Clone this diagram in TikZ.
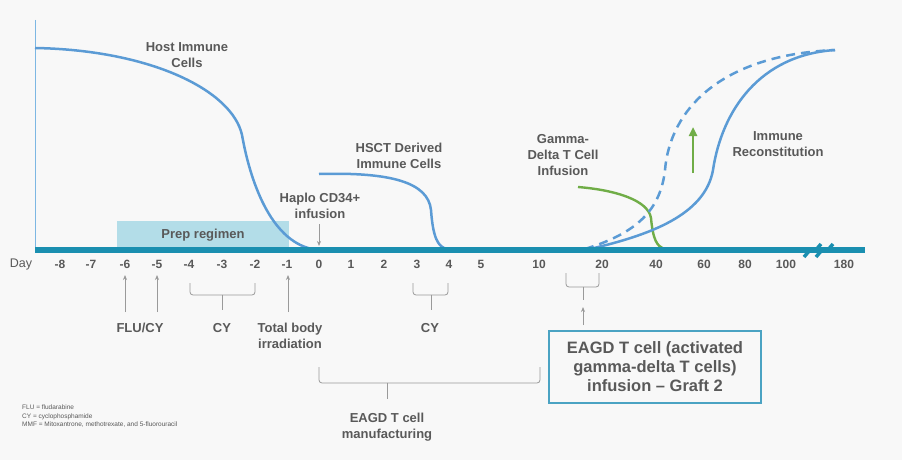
\documentclass[tikz,border=0pt]{standalone}
\usepackage{fontspec}
\setmainfont{Liberation Sans}
\usetikzlibrary{arrows.meta}
\definecolor{curvec}{HTML}{5B9BD5}
\definecolor{axisc}{HTML}{1A8FB0}
\definecolor{txt}{HTML}{595959}
\definecolor{prepc}{HTML}{B3DDE8}
\definecolor{grn}{HTML}{70AD47}
\definecolor{brk}{HTML}{9A9A9A}
\definecolor{boxc}{HTML}{4BA3C3}
\definecolor{bgc}{HTML}{F8F8F8}
\definecolor{vaxc}{HTML}{7DB7E3}
\begin{document}
\begin{tikzpicture}[x=1pt,y=-1pt,
  lbl/.style={font=\fontsize{13}{16}\selectfont\bfseries, text=txt, align=center, inner sep=0pt},
  tick/.style={font=\fontsize{12}{14}\selectfont\bfseries, text=txt, inner sep=0pt},
  cv/.style={curvec, line width=2.5pt},
  gcv/.style={grn, line width=2.4pt},
  bracefig/.style={brk, line width=0.8pt, rounded corners=3pt},
  garrow/.style={brk, line width=0.8pt, -{Stealth[length=5pt,width=4pt]}}
]
\fill[bgc] (0,0) rectangle (902,460);
\useasboundingbox (0,0) rectangle (902,460);

% prep regimen box
\node (prep) [fill=prepc, minimum width=172pt, minimum height=28pt, inner sep=0pt,
  font=\fontsize{13}{16}\selectfont\bfseries, text=txt] at (203,235) {Prep regimen};

% vertical axis
\draw[vaxc, line width=1pt] (35,20) -- (35,250);

% curves
\draw[cv] (35,48) .. controls (150,50) and (232,90) .. (242,135)
              .. controls (250,180) and (270,240) .. (312,249);
\draw[cv] (319,174) .. controls (390,172) and (428,182) .. (431,210)
              .. controls (433,238) and (438,247) .. (447,249);
\draw[gcv] (578,187) .. controls (615,190) and (648,200) .. (651,218)
              .. controls (653,240) and (657,246) .. (664,249);
\draw[cv, dash pattern=on 9pt off 6pt] (585,249) .. controls (630,235) and (660,215) .. (665,170)
              .. controls (670,110) and (720,55) .. (835,50);
\draw[cv] (590,249) .. controls (650,235) and (705,215) .. (713,170)
              .. controls (722,110) and (760,55) .. (835,50);
\coordinate (gaS) at (693,173);
\coordinate (gaE) at (693,127);
\draw[grn, line width=2.6pt, -{Triangle[length=9pt,width=8pt]}] (gaS) -- (gaE);

% horizontal axis
\draw[axisc, line width=6pt] (35,250) -- (865,250);
\draw[axisc, line width=3.5pt, line join=miter] (804,257) -- (810,250) -- (815,251) -- (821,244);
\draw[axisc, line width=3.5pt, line join=miter] (816,257) -- (822,250) -- (827,251) -- (833,244);

% curve labels
\node[lbl] (host) at (187,55) {Host Immune\\Cells};
\node[lbl] (hsct) at (399,156) {HSCT Derived\\Immune Cells};
\node[lbl] (haplo) at (320,206) {Haplo CD34+\\infusion};
\node[lbl] (gamma) at (563,155) {Gamma-\\Delta T Cell\\Infusion};
\node[lbl] (immune) at (778,144) {Immune\\Reconstitution};

\coordinate (hapS) at (319,224);
\coordinate (hapE) at (319,246);
\draw[garrow] (hapS) -- (hapE);

% ticks
\node[font=\fontsize{12.5}{14}\selectfont, text=txt, inner sep=0pt] (day) at (21,264) {Day};
\foreach \v/\x in {-8/60,-7/91,-6/125,-5/157,-4/189,-3/222,-2/255,-1/287,0/319,1/351,2/384,3/417,4/449,5/481,10/539,20/602,40/656,60/704,80/745,100/786,180/844}
  \node[tick] (t\v) at (\x,264.5) {\v};

% bottom annotations
\node[lbl] (flucy) at (140,328) {FLU/CY};
\coordinate (fa1) at (125,312); \coordinate (fa1e) at (125,275);
\coordinate (fa2) at (157,312); \coordinate (fa2e) at (157,275);
\draw[garrow] (fa1) -- (fa1e);
\draw[garrow] (fa2) -- (fa2e);

\node[lbl] (cy1) at (222,328) {CY};
\draw[bracefig] (190,283) |- (222,295);
\draw[bracefig] (255,283) |- (222,295);
\draw[brk, line width=0.8pt] (222,295) -- (222,310);

\node[lbl] (tbi) at (290,336) {Total body\\irradiation};
\coordinate (tbS) at (288,312); \coordinate (tbE) at (288,275);
\draw[garrow] (tbS) -- (tbE);

\node[lbl] (cy2) at (430,328) {CY};
\draw[bracefig] (413,283) |- (431,295);
\draw[bracefig] (448,283) |- (431,295);
\draw[brk, line width=0.8pt] (431,295) -- (431,310);

\draw[bracefig] (566,273) |- (583,287);
\draw[bracefig] (599,273) |- (583,287);
\draw[brk, line width=0.8pt] (583,287) -- (583,300);
\coordinate (grS) at (583,325); \coordinate (grE) at (583,307);
\draw[garrow] (grS) -- (grE);

\node (graft) [draw=boxc, line width=1.2pt, minimum width=212pt, minimum height=72pt,
  inner sep=0pt, align=center, text=txt, font=\fontsize{16.5}{19}\selectfont\bfseries]
  at (655,367) {EAGD T cell (activated\\gamma-delta T cells)\\infusion -- Graft 2};

\draw[bracefig] (319,367) |- (387,383);
\draw[bracefig] (540,367) |- (387,383);
\draw[brk, line width=0.8pt] (387,383) -- (387,399);
\node[lbl] (manu) at (387,427) {EAGD T cell\\manufacturing};

% legend
\node[anchor=north west, inner sep=0pt, align=left, text=txt,
  font=\fontsize{6.5}{8.5}\selectfont] (legend) at (22,405)
  {FLU = fludarabine\\CY = cyclophosphamide\\MMF = Mitoxantrone, methotrexate, and 5-fluorouracil};
\end{tikzpicture}
\end{document}
